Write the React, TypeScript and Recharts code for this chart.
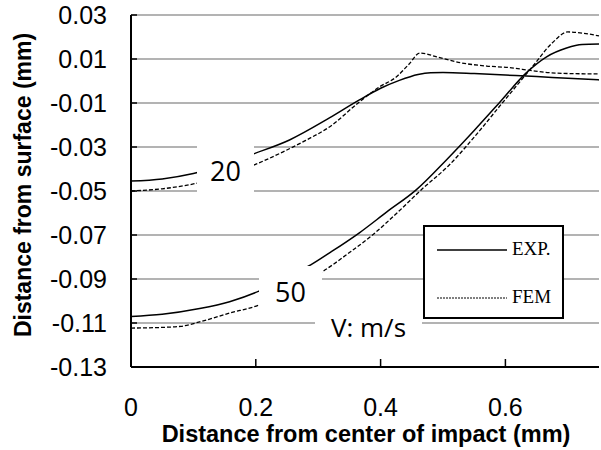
import { CartesianGrid, Line, LineChart, XAxis, YAxis } from "recharts";

const yTicks = [0.03, 0.01, -0.01, -0.03, -0.05, -0.07, -0.09, -0.11, -0.13];
const xTicks = [0, 0.2, 0.4, 0.6];

// [distance from center, depth]
const exp20 = [
  [0, -0.0455], [0.05, -0.0445], [0.1, -0.042], [0.15, -0.0382], [0.19, -0.0338],
  [0.254, -0.0268], [0.318, -0.0168], [0.366, -0.0086], [0.4, -0.0033], [0.43, 0.0003],
  [0.46, 0.003], [0.48, 0.0038], [0.5, 0.0039], [0.55, 0.0034], [0.6, 0.0027],
  [0.65, 0.002], [0.7, 0.0012], [0.75, 0.0005],
];
const fem20 = [
  [0, -0.05], [0.05, -0.049], [0.1, -0.0468], [0.15, -0.043], [0.19, -0.039],
  [0.243, -0.0323], [0.28, -0.027], [0.318, -0.0209], [0.366, -0.0095], [0.398, -0.0027],
  [0.425, 0.0018], [0.445, 0.0075], [0.463, 0.0127], [0.49, 0.011], [0.53, 0.0082],
  [0.57, 0.0068], [0.61, 0.006], [0.64, 0.0048], [0.68, 0.0036], [0.75, 0.0032],
];
const exp50 = [
  [0, -0.107], [0.05, -0.106], [0.11, -0.1034], [0.158, -0.1003], [0.205, -0.0955],
  [0.25, -0.089], [0.288, -0.0836], [0.32, -0.0778], [0.366, -0.069], [0.41, -0.0595],
  [0.457, -0.0495], [0.505, -0.036], [0.55, -0.0225], [0.59, -0.01], [0.633, 0.0036],
  [0.666, 0.011], [0.698, 0.015], [0.723, 0.0166], [0.75, 0.0168],
];
const fem50 = [
  [0, -0.1123], [0.05, -0.112], [0.08, -0.1115], [0.11, -0.1095], [0.158, -0.1055],
  [0.205, -0.1018], [0.25, -0.095], [0.306, -0.0868], [0.35, -0.078], [0.387, -0.07],
  [0.43, -0.059], [0.465, -0.0495], [0.51, -0.0382], [0.55, -0.0255], [0.595, -0.01],
  [0.643, 0.0064], [0.675, 0.0173], [0.7, 0.0223], [0.723, 0.0218], [0.75, 0.0205],
];

const rows = (pts: number[][]) => pts.map(([x, y]) => ({ x, y }));

const sans = "'Liberation Sans', Arial, sans-serif";
const labelFont = "'Open Sans', sans-serif";

function YTick({ x, y, payload }: any) {
  return (
    <g>
      <line x1={x} x2={x + 6} y1={y} y2={y} stroke="#000" strokeWidth={1.5} />
      <text x={x - 24} y={y + 9} textAnchor="end" fontSize={25} fontFamily={sans} fill="#000">
        {payload.value.toFixed(2)}
      </text>
    </g>
  );
}

function XTick({ x, y, payload }: any) {
  return (
    <g>
      {payload.value !== 0 && <line x1={x} x2={x} y1={y} y2={y - 8} stroke="#000" strokeWidth={1.5} />}
      <text x={x} y={y + 49} textAnchor="middle" fontSize={25} fontFamily={sans} fill="#000">
        {payload.value}
      </text>
    </g>
  );
}

function YTitle() {
  return (
    <text transform="translate(31, 185) rotate(-90)" textAnchor="middle" fontSize={23} fontWeight="bold" fontFamily={sans} fill="#000">
      Distance from surface (mm)
    </text>
  );
}

function XTitle() {
  return (
    <text x={366} y={442} textAnchor="middle" fontSize={23.5} fontWeight="bold" fontFamily={sans} fill="#000">
      Distance from center of impact (mm)
    </text>
  );
}

function Tag({ left, top, width, height, text, size }: any) {
  return (
    <div style={{ position: "absolute", left, top, width, height, background: "#fff", display: "flex", alignItems: "center", justifyContent: "center", fontFamily: labelFont, fontSize: size, lineHeight: 1, color: "#000" }}>
      {text}
    </div>
  );
}

export default function App() {
  return (
    <div style={{ position: "absolute", left: 0, top: 0, width: 601, height: 450, background: "#fff" }}>
      <LineChart width={601} height={450} margin={{ top: 15, right: 2, left: 0, bottom: 0 }}>
        <CartesianGrid vertical={false} stroke="#9a9a9a" strokeWidth={1.5} />
        <XAxis type="number" dataKey="x" domain={[0, 0.75]} ticks={xTicks} tick={<XTick />} tickSize={0} tickMargin={0} tickLine={false} height={83} axisLine={{ stroke: "#000", strokeWidth: 2 }} label={<XTitle />} />
        <XAxis xAxisId="top" orientation="top" type="number" dataKey="x" domain={[0, 0.75]} height={0} tick={false} tickLine={false} axisLine={{ stroke: "#000", strokeWidth: 2 }} />
        <YAxis type="number" domain={[-0.13, 0.03]} ticks={yTicks} tick={<YTick />} tickSize={0} tickMargin={0} tickLine={false} width={131} axisLine={{ stroke: "#000", strokeWidth: 2 }} label={<YTitle />} />
        <YAxis yAxisId="right" orientation="right" type="number" domain={[-0.13, 0.03]} width={0} tick={false} tickLine={false} axisLine={{ stroke: "#000", strokeWidth: 2 }} />
        <Line data={rows(exp20)} dataKey="y" type="monotone" stroke="#000" strokeWidth={1.5} dot={false} isAnimationActive={false} />
        <Line data={rows(fem20)} dataKey="y" type="monotone" stroke="#000" strokeWidth={1.3} strokeDasharray="4 2" dot={false} isAnimationActive={false} />
        <Line data={rows(exp50)} dataKey="y" type="monotone" stroke="#000" strokeWidth={1.5} dot={false} isAnimationActive={false} />
        <Line data={rows(fem50)} dataKey="y" type="monotone" stroke="#000" strokeWidth={1.3} strokeDasharray="4 2" dot={false} isAnimationActive={false} />
      </LineChart>
      <Tag left={197} top={140} width={57} height={60} text="20" size={27} />
      <Tag left={259} top={266} width={63} height={50} text="50" size={27} />
      <Tag left={315} top={308} width={107} height={38} text="V: m/s" size={26} />
      <div style={{ position: "absolute", left: 423, top: 225, width: 137, height: 90, background: "#fff", border: "2px solid #000", fontFamily: "'Liberation Serif', 'Times New Roman', serif", fontSize: 19, color: "#000" }}>
        <svg width={70} height={4} style={{ position: "absolute", left: 12, top: 21 }}>
          <line x1={0} x2={70} y1={2} y2={2} stroke="#000" strokeWidth={1.3} />
        </svg>
        <span style={{ position: "absolute", left: 87, top: 11 }}>EXP.</span>
        <svg width={70} height={4} style={{ position: "absolute", left: 12, top: 69 }}>
          <line x1={0} x2={70} y1={2} y2={2} stroke="#000" strokeWidth={1} strokeDasharray="2 1" />
        </svg>
        <span style={{ position: "absolute", left: 87, top: 59 }}>FEM</span>
      </div>
    </div>
  );
}
